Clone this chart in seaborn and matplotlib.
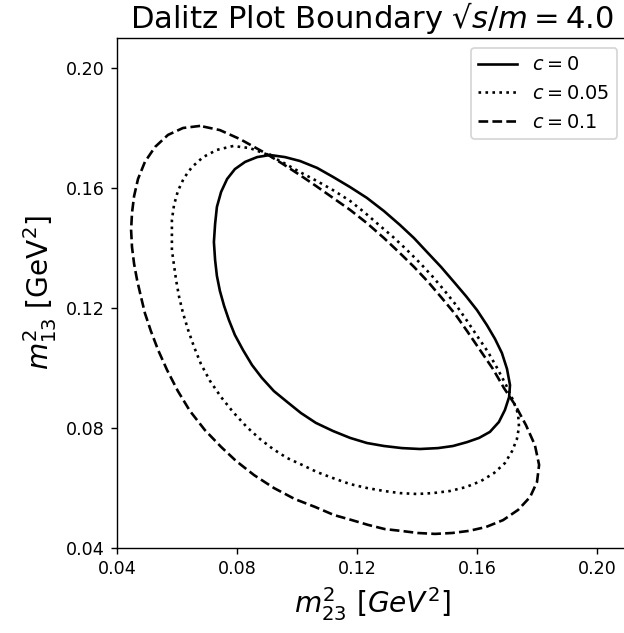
import numpy as np
import pandas as pd
import matplotlib
matplotlib.use('Agg')
import matplotlib.pyplot as plt
import seaborn as sns

# Boundary points (m23^2, m13^2 in GeV^2)
x_c0 = [0.0910, 0.0867, 0.0827, 0.0793, 0.0767, 0.0747, 0.0733, 0.0727, 0.0723, 0.0727,
        0.0733, 0.0743, 0.0757, 0.0773, 0.0793, 0.0820, 0.0850, 0.0883, 0.0923, 0.0967,
        0.1013, 0.1063, 0.1120, 0.1177, 0.1233, 0.1290, 0.1350, 0.1410, 0.1470, 0.1520,
        0.1567, 0.1607, 0.1643, 0.1673, 0.1693, 0.1707, 0.1710, 0.1700, 0.1683, 0.1660,
        0.1633, 0.1600, 0.1563, 0.1523, 0.1480, 0.1433, 0.1390, 0.1343, 0.1290, 0.1233,
        0.1177, 0.1120, 0.1067, 0.1010, 0.0960, 0.0910]
y_c0 = [0.1710, 0.1703, 0.1687, 0.1663, 0.1630, 0.1587, 0.1537, 0.1480, 0.1420, 0.1360,
        0.1307, 0.1257, 0.1207, 0.1160, 0.1110, 0.1060, 0.1010, 0.0967, 0.0923, 0.0887,
        0.0850, 0.0817, 0.0790, 0.0767, 0.0750, 0.0740, 0.0733, 0.0730, 0.0733, 0.0740,
        0.0753, 0.0767, 0.0787, 0.0820, 0.0860, 0.0903, 0.0943, 0.0997, 0.1050, 0.1097,
        0.1143, 0.1193, 0.1240, 0.1287, 0.1337, 0.1387, 0.1433, 0.1477, 0.1523, 0.1567,
        0.1603, 0.1637, 0.1667, 0.1690, 0.1703, 0.1710]

x_c005 = [0.0787, 0.0733, 0.0687, 0.0650, 0.0623, 0.0603, 0.0590, 0.0583, 0.0583, 0.0583,
          0.0590, 0.0597, 0.0607, 0.0620, 0.0637, 0.0657, 0.0680, 0.0710, 0.0747, 0.0787,
          0.0833, 0.0877, 0.0920, 0.0967, 0.1017, 0.1067, 0.1120, 0.1177, 0.1233, 0.1290,
          0.1343, 0.1400, 0.1453, 0.1510, 0.1563, 0.1613, 0.1657, 0.1693, 0.1717, 0.1733,
          0.1740, 0.1737, 0.1720, 0.1697, 0.1667, 0.1637, 0.1603, 0.1567, 0.1530, 0.1490,
          0.1450, 0.1410, 0.1367, 0.1320, 0.1273, 0.1227, 0.1177, 0.1120, 0.1067, 0.1010,
          0.0950, 0.0897, 0.0843, 0.0787]
y_c005 = [0.1740, 0.1727, 0.1703, 0.1670, 0.1633, 0.1590, 0.1543, 0.1493, 0.1443, 0.1393,
          0.1343, 0.1293, 0.1237, 0.1183, 0.1127, 0.1070, 0.1013, 0.0957, 0.0903, 0.0853,
          0.0803, 0.0763, 0.0730, 0.0700, 0.0677, 0.0653, 0.0633, 0.0613, 0.0600, 0.0590,
          0.0583, 0.0580, 0.0583, 0.0590, 0.0603, 0.0623, 0.0650, 0.0683, 0.0723, 0.0763,
          0.0803, 0.0847, 0.0893, 0.0943, 0.1000, 0.1053, 0.1103, 0.1157, 0.1210, 0.1260,
          0.1307, 0.1350, 0.1393, 0.1437, 0.1477, 0.1517, 0.1557, 0.1593, 0.1623, 0.1653,
          0.1687, 0.1713, 0.1733, 0.1740]

x_c01 = [0.0677, 0.0620, 0.0570, 0.0527, 0.0493, 0.0470, 0.0457, 0.0450, 0.0447, 0.0450,
         0.0457, 0.0467, 0.0480, 0.0493, 0.0513, 0.0537, 0.0567, 0.0603, 0.0643, 0.0693,
         0.0747, 0.0797, 0.0857, 0.0923, 0.0993, 0.1060, 0.1123, 0.1183, 0.1237, 0.1293,
         0.1347, 0.1403, 0.1460, 0.1517, 0.1573, 0.1630, 0.1687, 0.1737, 0.1777, 0.1800,
         0.1807, 0.1793, 0.1763, 0.1727, 0.1690, 0.1653, 0.1610, 0.1567, 0.1527, 0.1483,
         0.1437, 0.1390, 0.1343, 0.1290, 0.1233, 0.1177, 0.1120, 0.1063, 0.1010, 0.0953,
         0.0893, 0.0810, 0.0743, 0.0677]
y_c01 = [0.1807, 0.1800, 0.1777, 0.1737, 0.1687, 0.1630, 0.1573, 0.1517, 0.1460, 0.1403,
         0.1347, 0.1293, 0.1237, 0.1183, 0.1123, 0.1060, 0.0993, 0.0923, 0.0857, 0.0793,
         0.0737, 0.0690, 0.0643, 0.0600, 0.0563, 0.0537, 0.0510, 0.0493, 0.0477, 0.0463,
         0.0457, 0.0450, 0.0447, 0.0450, 0.0457, 0.0470, 0.0493, 0.0527, 0.0570, 0.0620,
         0.0677, 0.0743, 0.0810, 0.0877, 0.0933, 0.0997, 0.1060, 0.1123, 0.1180, 0.1233,
         0.1287, 0.1337, 0.1383, 0.1433, 0.1483, 0.1527, 0.1567, 0.1607, 0.1643, 0.1680,
         0.1717, 0.1763, 0.1793, 0.1807]

curves = [
    (x_c0, y_c0, '-', r'$c = 0$'),
    (x_c005, y_c005, ':', r'$c = 0.05$'),
    (x_c01, y_c01, '--', r'$c = 0.1$'),
]
ticks = [0.04, 0.08, 0.12, 0.16, 0.20]

dpi = 126
fig = plt.figure(figsize=(624 / dpi, 633 / dpi), dpi=dpi)
ax = fig.add_axes([117 / 624, 85 / 633, 510 / 624, 510 / 633])

for xs, ys, ls, lab in curves:
    sns.lineplot(x=xs, y=ys, sort=False, estimator=None, color='black',
                 linestyle=ls, linewidth=1.5, label=lab, ax=ax)

ax.set_xlim(0.04, 0.21)
ax.set_ylim(0.04, 0.21)
ax.set_xticks(ticks)
ax.set_yticks(ticks)
ax.set_xticklabels([f'{t:.2f}' for t in ticks])
ax.set_yticklabels([f'{t:.2f}' for t in ticks])
ax.set_xlabel(r'$m^2_{23}\ [GeV^2]$', fontsize=16)
ax.set_ylabel(r'$m^2_{13}$ [GeV$^2$]', fontsize=16)
ax.set_title('Dalitz Plot Boundary √$s/m = 4.0$', fontsize=17.5)
ax.legend(loc='upper right', fontsize=11)

fig.savefig('out.png', dpi=dpi)
